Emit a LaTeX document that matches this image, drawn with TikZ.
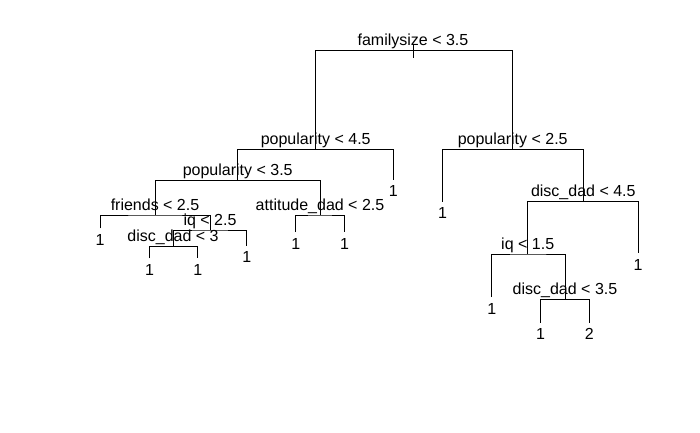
\documentclass[tikz,border=0pt]{standalone}
\usepackage{fontspec}
\setmainfont{Liberation Sans}
\begin{document}
\begin{tikzpicture}[x=1pt,y=-1pt,line width=1pt,
    split/.style={anchor=base,inner sep=0pt,font=\fontsize{16}{19}\selectfont},
    leaf/.style={anchor=base,inner sep=0pt,font=\fontsize{16}{19}\selectfont}]
  \useasboundingbox (0,0) rectangle (700,432);
  % split points
  \coordinate (root) at (413,50.7);
  \coordinate (pop45) at (315.7,149.3);
  \coordinate (pop25) at (512.7,149.3);
  \coordinate (pop35) at (237.7,180.7);
  \coordinate (friends) at (155,215);
  \coordinate (attdad) at (320,215);
  \coordinate (iq25) at (210,230);
  \coordinate (disc3) at (173,246.7);
  \coordinate (disc45) at (583.3,201.7);
  \coordinate (iq15) at (527.7,254);
  \coordinate (disc35) at (565,299.3);
  % leaves
  \coordinate (leafA) at (393.3,179.5);
  \coordinate (leafB) at (100,228.3);
  \coordinate (leafC) at (246.7,245.5);
  \coordinate (leafD) at (149.5,258.3);
  \coordinate (leafE) at (197.7,258.3);
  \coordinate (leafF) at (295.7,232);
  \coordinate (leafG) at (344.5,232);
  \coordinate (leafH) at (442.5,201.7);
  \coordinate (leafI) at (638,253);
  \coordinate (leafJ) at (491.7,297);
  \coordinate (leafK) at (540.5,322.5);
  \coordinate (leafL) at (589.3,322.5);
  % branches
  \draw (413,45) -- (413,57.5);
  \draw (pop45) |- (root) -| (pop25);
  \draw (pop35) |- (pop45) -| (leafA);
  \draw (friends) |- (pop35) -| (attdad);
  \draw (leafB) |- (friends) -| (iq25);
  \draw (disc3) |- (iq25) -| (leafC);
  \draw (leafD) |- (disc3) -| (leafE);
  \draw (leafF) |- (attdad) -| (leafG);
  \draw (leafH) |- (pop25) -| (disc45);
  \draw (iq15) |- (disc45) -| (leafI);
  \draw (leafJ) |- (iq15) -| (disc35);
  \draw (leafK) |- (disc35) -| (leafL);
  % split labels
  \node[split] (root-t) at ([yshift=5pt]root) {familysize < 3.5};
  \node[split] (pop45-t) at ([yshift=5pt]pop45) {popularity < 4.5};
  \node[split] (pop25-t) at ([yshift=5pt]pop25) {popularity < 2.5};
  \node[split] (pop35-t) at ([yshift=5pt]pop35) {popularity < 3.5};
  \node[split] (friends-t) at ([yshift=5pt]friends) {friends < 2.5};
  \node[split] (attdad-t) at ([yshift=5pt]attdad) {attitude\_dad < 2.5};
  \node[split] (iq25-t) at ([yshift=5pt]iq25) {iq < 2.5};
  \node[split] (disc3-t) at ([yshift=5pt]disc3) {disc\_dad < 3};
  \node[split] (disc45-t) at ([yshift=5pt]disc45) {disc\_dad < 4.5};
  \node[split] (iq15-t) at ([yshift=5pt]iq15) {iq < 1.5};
  \node[split] (disc35-t) at ([yshift=5pt]disc35) {disc\_dad < 3.5};
  % leaf labels
  \node[leaf] (leafA-t) at ([yshift=-17pt]leafA) {1};
  \node[leaf] (leafB-t) at ([yshift=-17pt]leafB) {1};
  \node[leaf] (leafC-t) at ([yshift=-17pt]leafC) {1};
  \node[leaf] (leafD-t) at ([yshift=-17pt]leafD) {1};
  \node[leaf] (leafE-t) at ([yshift=-17pt]leafE) {1};
  \node[leaf] (leafF-t) at ([yshift=-17pt]leafF) {1};
  \node[leaf] (leafG-t) at ([yshift=-17pt]leafG) {1};
  \node[leaf] (leafH-t) at ([yshift=-17pt]leafH) {1};
  \node[leaf] (leafI-t) at ([yshift=-17pt]leafI) {1};
  \node[leaf] (leafJ-t) at ([yshift=-17pt]leafJ) {1};
  \node[leaf] (leafK-t) at ([yshift=-17pt]leafK) {1};
  \node[leaf] (leafL-t) at ([yshift=-17pt]leafL) {2};
\end{tikzpicture}
\end{document}
